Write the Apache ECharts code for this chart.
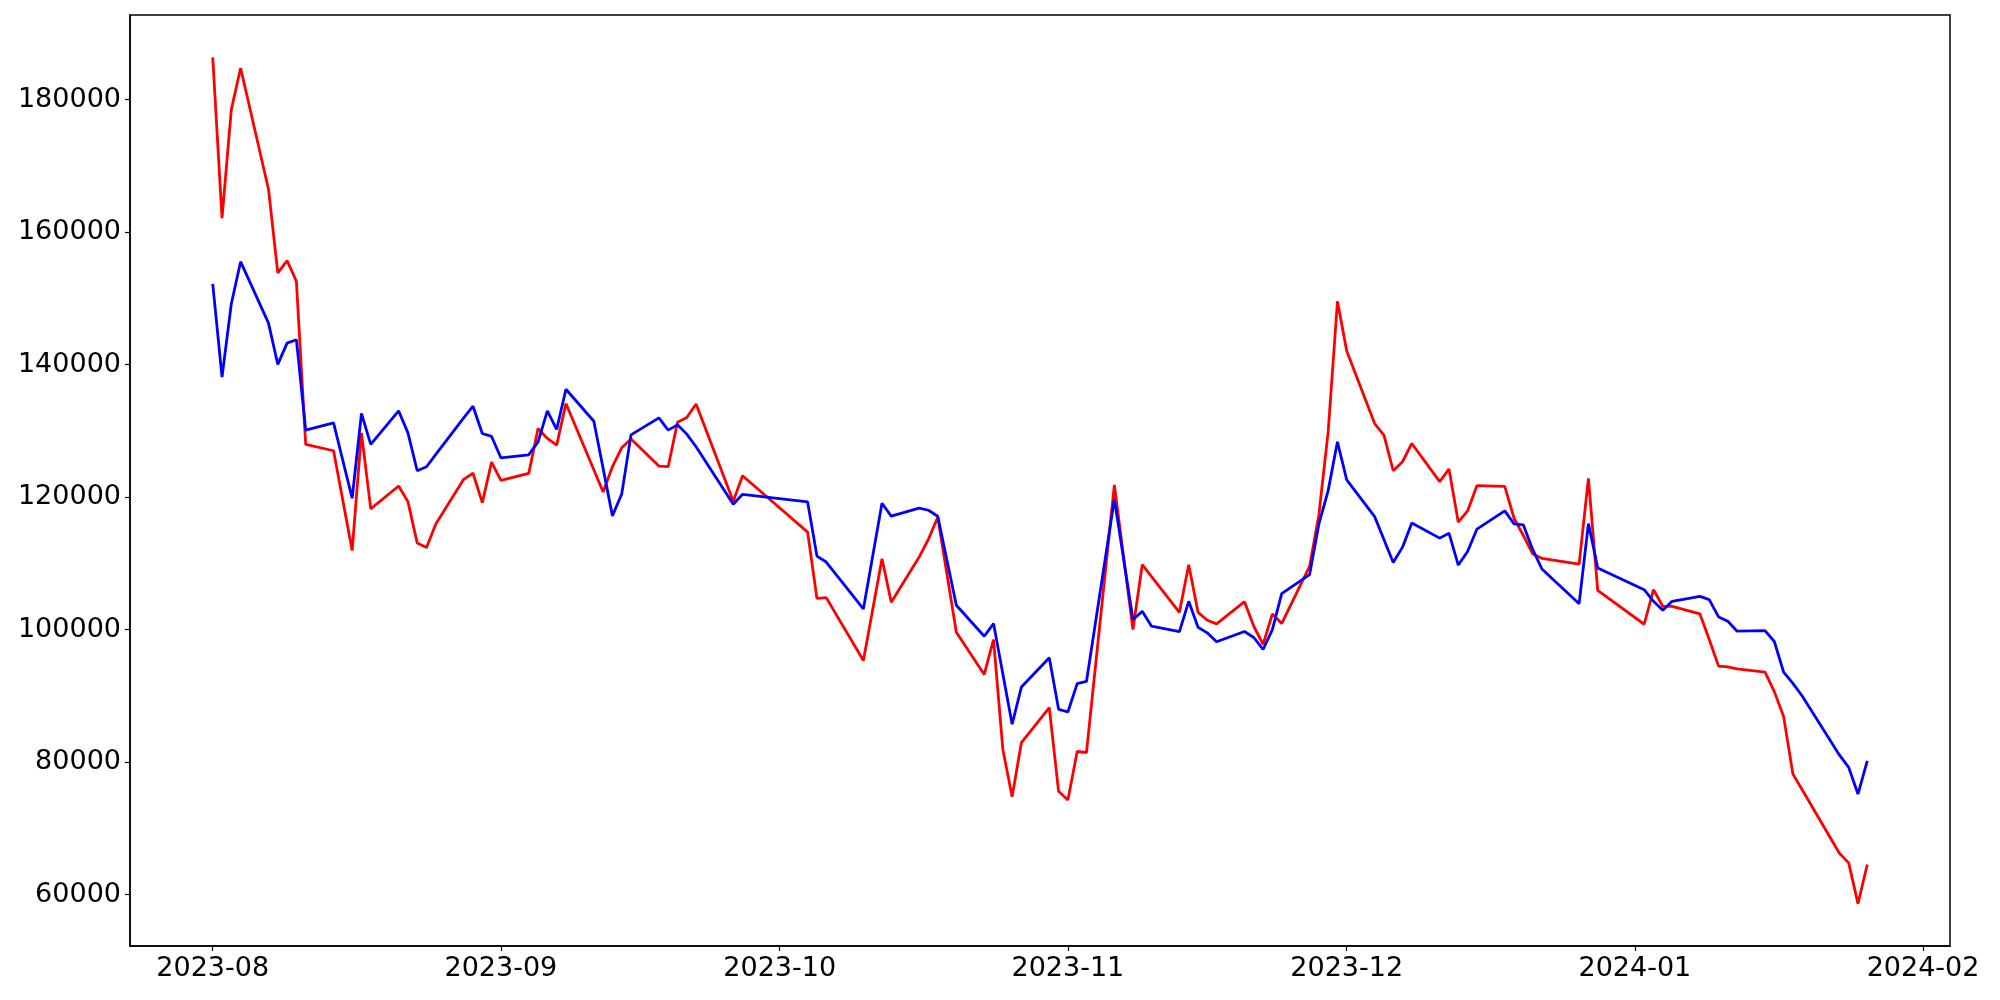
<!DOCTYPE html>
<html>
<head>
<meta charset="utf-8">
<script src="https://cdn.jsdelivr.net/npm/echarts@6/dist/echarts.min.js"></script>
<style>
html,body{margin:0;padding:0;background:#fff;}
#chart{width:2000px;height:1000px;}
</style>
</head>
<body>
<div id="chart"></div>
<script>
// Dates (YYYY-MM-DD) shared by both series
const dates = [
'2023-08-01','2023-08-02','2023-08-03','2023-08-04','2023-08-07','2023-08-08','2023-08-09','2023-08-10','2023-08-11',
'2023-08-14','2023-08-16','2023-08-17','2023-08-18','2023-08-21','2023-08-22','2023-08-23','2023-08-24','2023-08-25',
'2023-08-28','2023-08-29','2023-08-30','2023-08-31','2023-09-01','2023-09-04','2023-09-05','2023-09-06','2023-09-07',
'2023-09-08','2023-09-11','2023-09-12','2023-09-13','2023-09-14','2023-09-15','2023-09-18','2023-09-19','2023-09-20',
'2023-09-21','2023-09-22','2023-09-26','2023-09-27','2023-10-04','2023-10-05','2023-10-06','2023-10-10','2023-10-12',
'2023-10-13','2023-10-16','2023-10-17','2023-10-18','2023-10-20','2023-10-23','2023-10-24','2023-10-25','2023-10-26',
'2023-10-27','2023-10-30','2023-10-31','2023-11-01','2023-11-02','2023-11-03','2023-11-06','2023-11-08','2023-11-09',
'2023-11-10','2023-11-13','2023-11-14','2023-11-15','2023-11-16','2023-11-17','2023-11-20','2023-11-21','2023-11-22',
'2023-11-23','2023-11-24','2023-11-27','2023-11-28','2023-11-29','2023-11-30','2023-12-01','2023-12-04','2023-12-05',
'2023-12-06','2023-12-07','2023-12-08','2023-12-11','2023-12-12','2023-12-13','2023-12-14','2023-12-15','2023-12-18',
'2023-12-19','2023-12-20','2023-12-21','2023-12-22','2023-12-26','2023-12-27','2023-12-28','2024-01-02','2024-01-03',
'2024-01-04','2024-01-05','2024-01-08','2024-01-09','2024-01-10','2024-01-11','2024-01-12','2024-01-15','2024-01-16',
'2024-01-17','2024-01-18','2024-01-19','2024-01-23','2024-01-24','2024-01-25','2024-01-26'
];

const redValues = [
186380,162100,178500,184770,166470,153830,155680,152570,127950,
126990,111930,129690,118210,121670,119310,113050,112390,115950,
122680,123600,119160,125280,122530,123580,130350,128850,127840,
134120,124130,120770,124580,127440,128750,124680,124580,131300,
132010,134060,119370,123220,114700,104710,104820,95340,110690,
104110,110940,113650,116960,99590,93230,98500,81940,74770,
82950,88220,75580,74270,81590,81440,121820,100000,109790,
107980,102600,109790,102600,101400,100860,104210,100500,97750,
102360,100900,109530,117300,129840,149560,142030,131100,129350,
123970,125330,128090,122320,124230,116210,117910,121720,121620,
116800,114200,111440,110730,109890,122830,105900,100800,106020,
103510,103510,102360,98500,94480,94380,94080,93570,90630,
86860,78180,75820,66240,64780,58620,64530
];

const blueValues = [
152180,138120,149170,155530,146250,140030,143240,143750,130100,
131200,119820,132610,127950,133010,129690,123970,124580,126440,
131950,133710,129600,129150,125930,126380,128340,133000,130200,
136270,131450,124330,117160,120470,129390,131950,130100,130900,
129500,127590,118920,120420,119260,111090,110190,103120,119070,
117110,118320,118010,117110,103660,98990,100900,93330,85710,
91320,95740,87960,87560,91830,92170,119710,101510,102750,
100500,99700,104260,100350,99500,98150,99700,98800,96990,
99990,105420,108280,115900,120970,128340,122580,117050,113590,
110130,112440,116100,113800,114550,109740,111790,115150,117910,
115950,115800,112100,109140,103910,116000,109280,106020,104260,
102910,104260,105010,104520,101910,101250,99750,99850,98200,
93570,91880,89970,81070,79190,75170,80180
];

const yTickValues = [60000, 80000, 100000, 120000, 140000, 160000, 180000];
const xTickDates = ['2023-08-01','2023-09-01','2023-10-01','2023-11-01','2023-12-01','2024-01-01','2024-02-01'];

function toTime(s) {
  const p = s.split('-').map(Number);
  return new Date(p[0], p[1] - 1, p[2]).getTime();
}
const tFirst = toTime(dates[0]);
const tLast = toTime(dates[dates.length - 1]);
const span = tLast - tFirst;
const xMin = tFirst - 0.05 * span;
const xMax = tLast + 0.05 * span;
const yDataMin = Math.min(...redValues, ...blueValues);
const yDataMax = Math.max(...redValues, ...blueValues);
const ySpan = yDataMax - yDataMin;

const redData = dates.map((d, i) => [toTime(d), redValues[i]]);
const blueData = dates.map((d, i) => [toTime(d), blueValues[i]]);
const xTicks = xTickDates.map(toTime);

function pad(n) { return (n < 10 ? '0' : '') + n; }

const font = 'DejaVu Sans';
const chart = echarts.init(document.getElementById('chart'), null, {renderer: 'canvas'});
chart.setOption({
  animation: false,
  backgroundColor: '#ffffff',
  grid: {
    left: 130, right: 50, top: 15, bottom: 54,
    show: true, borderColor: '#000', borderWidth: 1.5, backgroundColor: 'transparent',
    outerBoundsMode: 'none'
  },
  xAxis: {
    type: 'value',
    min: xMin, max: xMax,
    axisLine: {show: true, lineStyle: {color: '#000', width: 1.5}},
    axisTick: {show: true, inside: false, length: 5, lineStyle: {color: '#000', width: 1.2}, customValues: xTicks},
    axisLabel: {
      show: true, color: '#000', fontSize: 27, fontFamily: font, margin: 9,
      customValues: xTicks,
      formatter: function (v) { const d = new Date(v); return d.getFullYear() + '-' + pad(d.getMonth() + 1); }
    },
    splitLine: {show: false}
  },
  yAxis: {
    type: 'value',
    min: yDataMin - 0.05 * ySpan, max: yDataMax + 0.05 * ySpan,
    axisLine: {show: true, lineStyle: {color: '#000', width: 1.5}},
    axisTick: {show: true, inside: false, length: 5, lineStyle: {color: '#000', width: 1.2}, customValues: yTickValues},
    axisLabel: {
      show: true, color: '#000', fontSize: 27, fontFamily: font, margin: 9,
      customValues: yTickValues,
      formatter: function (v) { return String(v); }
    },
    splitLine: {show: false}
  },
  series: [
    {type: 'line', data: redData, showSymbol: false, symbol: 'none', lineStyle: {color: '#ff0000', width: 2.8}, itemStyle: {color: '#ff0000'}},
    {type: 'line', data: blueData, showSymbol: false, symbol: 'none', lineStyle: {color: '#0000ff', width: 2.8}, itemStyle: {color: '#0000ff'}}
  ]
});
</script>
</body>
</html>
